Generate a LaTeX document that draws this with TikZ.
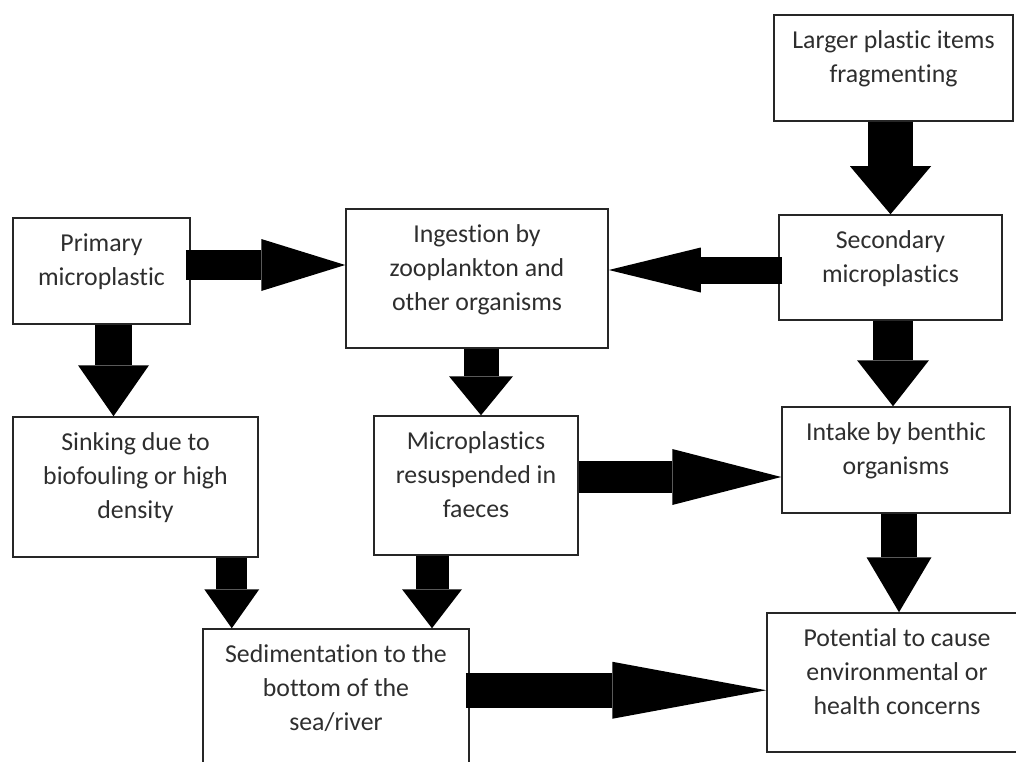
\documentclass[tikz,border=0pt]{standalone}
\usepackage{fontspec}
\setmainfont{Carlito}[Ligatures={NoCommon,TeX}]
\usetikzlibrary{arrows.meta,calc}
\tikzset{
  box/.style      = {draw=black!85, line width=1.5pt, fill=white, inner sep=0pt},
  boxtext/.style  = {anchor=north, align=center, inner sep=0pt, text=black!82,
                     font=\fontsize{25.8}{34}\selectfont,
                     execute at begin node=\strut},
  bigarrow/.style n args = {3}{line width=#1,
                     -{Triangle[length=#3,width=#2,line width=0pt]}},
}

\begin{document}
\begin{tikzpicture}[x=1pt,y=-1pt]
  \useasboundingbox (0,0) rectangle (1016,762);
  \clip (0,0) rectangle (1016,762);

  % boxes
  \node[box, minimum width=239pt, minimum height=106pt] (larger)    at (893.5,68)  {};
  \node[box, minimum width=177pt, minimum height=106pt] (prim)      at (101.5,271) {};
  \node[box, minimum width=262pt, minimum height=139pt] (ingest)    at (477,278.5) {};
  \node[box, minimum width=223pt, minimum height=105pt] (second)    at (890.5,267.5) {};
  \node[box, minimum width=245pt, minimum height=140pt] (sink)      at (135.5,487) {};
  \node[box, minimum width=204pt, minimum height=139pt] (faeces)    at (476,485.5) {};
  \node[box, minimum width=228pt, minimum height=106pt] (benthic)   at (896,460)   {};
  \node[box, minimum width=266pt, minimum height=140pt] (sediment)  at (336,699)   {};
  \node[box, minimum width=260pt, minimum height=139pt] (potential) at (897,682.5) {};

  % box texts
  \node[boxtext] (largertxt)    at ([yshift=-16pt]larger.north)    {Larger plastic items\\fragmenting};
  \node[boxtext] (primtxt)      at ([yshift=-16pt]prim.north)      {Primary\\microplastic};
  \node[boxtext] (ingesttxt)    at ([yshift=-16pt]ingest.north)    {Ingestion by\\zooplankton and\\other organisms};
  \node[boxtext] (secondtxt)    at ([yshift=-16pt]second.north)    {Secondary\\microplastics};
  \node[boxtext] (sinktxt)      at ([yshift=-16pt]sink.north)      {Sinking due to\\biofouling or high\\density};
  \node[boxtext] (faecestxt)    at ([yshift=-16pt]faeces.north)    {Microplastics\\resuspended in\\faeces};
  \node[boxtext] (benthictxt)   at ([yshift=-16pt]benthic.north)   {Intake by benthic\\organisms};
  \node[boxtext] (sedimenttxt)  at ([yshift=-16pt]sediment.north)  {Sedimentation to the\\bottom of the\\sea/river};
  \node[boxtext] (potentialtxt) at ([yshift=-16pt]potential.north) {Potential to cause\\environmental or\\health concerns};

  % block arrows
  \draw[bigarrow={45pt}{81pt}{48pt}] (larger.south -| second.north) -- (second.north);
  \draw[bigarrow={30pt}{52pt}{84pt}] ([xshift=-5pt,yshift=6pt]prim.east)
       -- ([yshift=6pt]prim.east -| ingest.west);
  \draw[bigarrow={37pt}{71pt}{51pt}] ([xshift=12pt]prim.south)
       -- ([xshift=12pt]prim.south |- sink.north);
  \draw[bigarrow={27pt}{45pt}{92pt}] ([xshift=4pt,yshift=-2.5pt]second.west)
       -- ([yshift=-2.5pt]second.west -| ingest.east);
  \draw[bigarrow={35pt}{64pt}{39pt}] ([xshift=4pt]ingest.south)
       -- ([xshift=4pt]ingest.south |- faeces.north);
  \draw[bigarrow={40pt}{72pt}{46pt}] ([xshift=2.5pt]second.south)
       -- ([xshift=2.5pt]second.south |- benthic.north);
  \draw[bigarrow={32pt}{56pt}{109pt}] ([yshift=8.5pt]faeces.east)
       -- ([yshift=8.5pt]faeces.east -| benthic.west);
  \draw[bigarrow={36pt}{65pt}{55pt}] ([xshift=3pt]benthic.south)
       -- ([xshift=3pt]benthic.south |- potential.north);
  \draw[bigarrow={31pt}{55pt}{39pt}] ([xshift=-27pt]sink.south east)
       -- ([xshift=-27pt]sink.south east |- sediment.north);
  \draw[bigarrow={33pt}{60pt}{39pt}] ([xshift=-44pt]faeces.south)
       -- ([xshift=-44pt]faeces.south |- sediment.north);
  \draw[bigarrow={35pt}{57pt}{154pt}] ([xshift=-4pt,yshift=-62pt]sediment.north east)
       -- ([yshift=-62pt]sediment.north east -| potential.west);
\end{tikzpicture}
\end{document}
